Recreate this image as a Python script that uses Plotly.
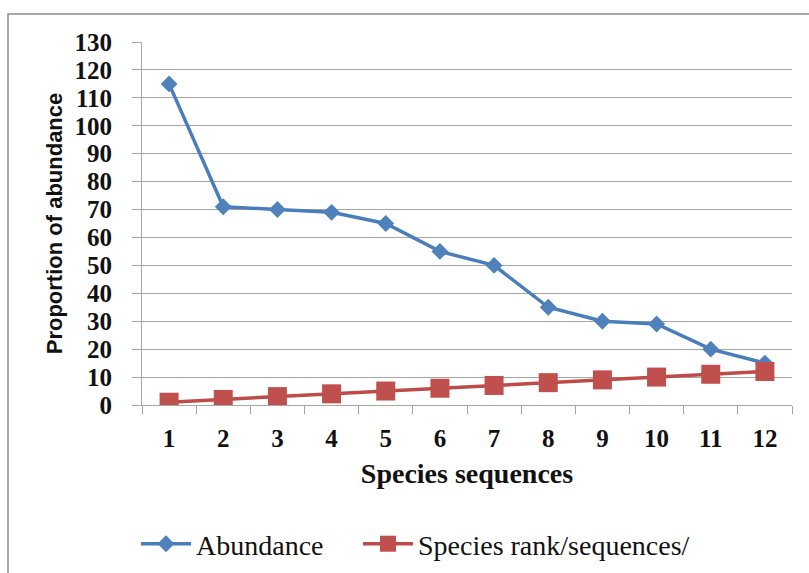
import plotly.graph_objects as go

categories = ["1", "2", "3", "4", "5", "6", "7", "8", "9", "10", "11", "12"]
abundance = [115, 71, 70, 69, 65, 55, 50, 35, 30, 29, 20, 15]
species_rank = [1, 2, 3, 4, 5, 6, 7, 8, 9, 10, 11, 12]
y_ticks = list(range(0, 131, 10))

SERIF = "Liberation Serif"
SANS = "Liberation Sans"

W, H = 809, 573
L, R, T, B = 142, 792, 42, 405

fig = go.Figure()
fig.add_trace(go.Scatter(
    x=categories, y=abundance, name="Abundance", mode="lines+markers",
    line=dict(color="#4A7EBB", width=3.5),
    marker=dict(symbol="diamond", size=13, color="#4F81BD"),
    legend="legend",
))
fig.add_trace(go.Scatter(
    x=categories, y=species_rank, name="Species rank/sequences/", mode="lines+markers",
    line=dict(color="#BE4B48", width=3.5),
    marker=dict(symbol="square", size=19, color="#C0504D"),
    legend="legend2",
))

pw, ph = R - L, B - T
def px(x):
    return (x - L) / pw
def py(y):
    return (B - y) / ph

leg_common = dict(orientation="h", xanchor="left", yanchor="middle",
                  font=dict(family=SERIF, size=28, color="#111"),
                  itemwidth=50, bgcolor="rgba(0,0,0,0)")

fig.update_layout(
    width=W, height=H,
    margin=dict(l=L, r=W - R, t=T, b=H - B, autoexpand=False),
    paper_bgcolor="white", plot_bgcolor="white",
    showlegend=True,
    legend=dict(x=px(136), y=py(544), **leg_common),
    legend2=dict(x=px(358), y=py(544), **leg_common),
    shapes=[dict(type="rect", xref="paper", yref="paper",
                 x0=px(8), x1=px(840), y0=py(600), y1=py(14),
                 line=dict(color="#8C8C8C", width=1.5), layer="below")],
)
fig.update_xaxes(
    type="category", range=[-0.5, 11.5], tickson="boundaries", ticks="outside", ticklen=8, tickcolor="#A6A6A6",
    showline=True, linecolor="#A6A6A6", linewidth=1, showgrid=False,
    tickfont=dict(family=SERIF, size=25, color="#111"),
    ticklabelstandoff=11,
    tickvals=categories, ticktext=[f"<b>{c}</b>" for c in categories],
    title=dict(text="<b>Species sequences</b>", font=dict(family=SERIF, size=28, color="#111"), standoff=12),
    automargin=False,
)
fig.update_yaxes(
    range=[0, 130], tickvals=y_ticks, ticktext=[f"<b>{v}</b>" for v in y_ticks],
    ticks="outside", ticklen=9, tickcolor="#A6A6A6",
    showline=True, linecolor="#A6A6A6", linewidth=1,
    showgrid=True, gridcolor="#A6A6A6", gridwidth=1, zeroline=False,
    tickfont=dict(family=SERIF, size=25, color="#111"),
    ticklabelstandoff=15,
    title=dict(text="<b>Proportion of abundance</b>", font=dict(family=SANS, size=22, color="#111"), standoff=5),
    automargin=False,
)

fig.write_html("out.html")
